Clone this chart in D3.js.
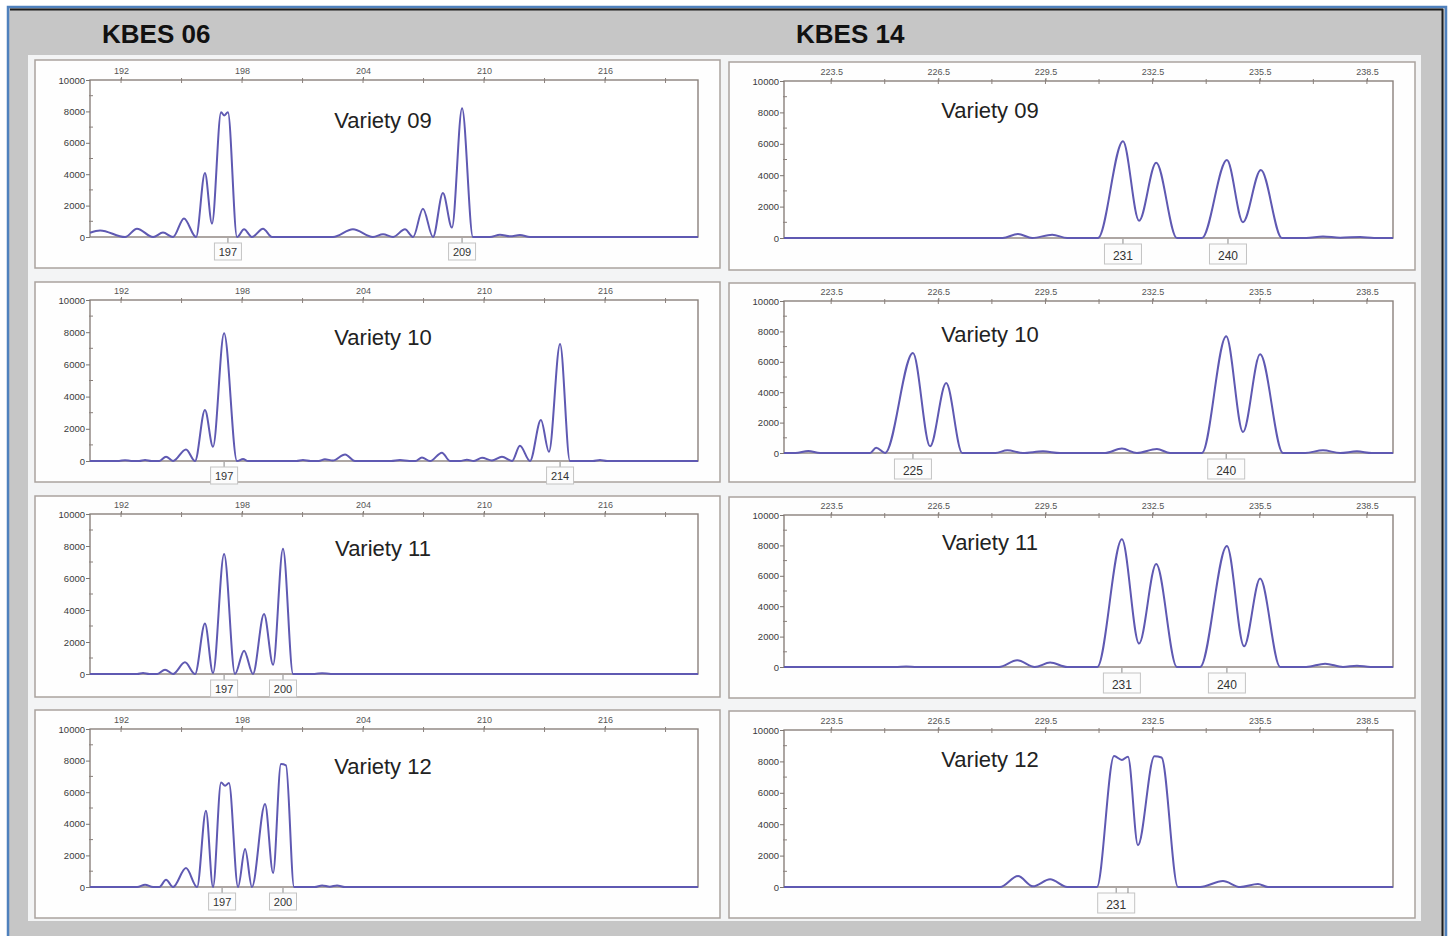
<!DOCTYPE html>
<html>
<head>
<meta charset="utf-8">
<script src="https://cdn.jsdelivr.net/npm/d3@7"></script>
<style>
  html, body { margin: 0; padding: 0; background: #ffffff; }
  svg { display: block; font-family: "Liberation Sans", Arial, sans-serif; }
</style>
</head>
<body>
<div id="chart"></div>
<script>
// =======================
// Electropherograms KBES 06 / KBES 14
// =======================

const LOCI = ["KBES 06", "KBES 14"];
const VARIETIES = ["Variety 09", "Variety 10", "Variety 11", "Variety 12"];

// axis values (fragment size, bp) and RFU
const sizeTicks06 = [192, 198, 204, 210, 216];
const sizeMinor06 = [195, 201, 207, 213, 219];
const sizeDomain06 = [190.46, 220.61];
const sizeTicks14 = [223.5, 226.5, 229.5, 232.5, 235.5, 238.5];
const sizeMinor14 = [225, 228, 231, 234, 237];
const sizeDomain14 = [222.18, 239.23];
const rfuTicks = [0, 2000, 4000, 6000, 8000, 10000];
const rfuMinor = [1000, 3000, 5000, 7000, 9000];

// traces: [size, rfu] at feet, valleys and peak tops
const kbes06_v09 = [[190.46, 270], [190.96, 420], [192.20, 0], [192.79, 530], [193.59, 0], [194.08, 280],
  [194.58, 0], [195.12, 1180], [195.72, 0], [196.16, 4080], [196.51, 850], [196.96, 7950], [197.11, 7740],
  [197.30, 7950], [197.75, 0], [198.10, 490], [198.49, 0], [199.04, 530], [199.49, 0], [202.51, 0],
  [203.50, 490], [204.49, 0], [204.99, 170], [205.49, 0], [206.08, 490], [206.48, 0], [206.97, 1800],
  [207.47, 0], [207.96, 2800], [208.41, 600], [208.91, 8200], [209.45, 0], [210.29, 0], [210.79, 150],
  [211.29, 40], [211.78, 120], [212.28, 0], [220.61, 0]];
const kbes06_v10 = [[190.46, 0], [191.90, 0], [192.20, 50], [192.50, 0], [192.90, 0], [193.19, 60],
  [193.50, 0], [193.90, 0], [194.23, 270], [194.58, 0], [195.22, 720], [195.67, 0], [196.16, 3170],
  [196.56, 890], [197.11, 7930], [197.75, 0], [198.05, 120], [198.30, 0], [200.70, 0], [201.02, 60],
  [201.40, 0], [201.80, 0], [202.11, 110], [202.50, 30], [203.11, 410], [203.60, 0], [205.40, 0],
  [205.83, 60], [206.30, 0], [206.60, 0], [206.92, 220], [207.32, 0], [207.91, 520], [208.31, 0],
  [208.80, 0], [209.15, 80], [209.50, 0], [209.90, 200], [210.39, 30], [210.89, 270], [211.39, 0],
  [211.78, 950], [212.28, 0], [212.82, 2550], [213.22, 570], [213.77, 7270], [214.26, 0], [215.40, 0],
  [215.75, 60], [216.10, 0], [220.61, 0]];
const kbes06_v11 = [[190.46, 0], [192.80, 0], [193.09, 60], [193.40, 0], [193.80, 0], [194.18, 270],
  [194.58, 0], [195.17, 730], [195.67, 0], [196.16, 3150], [196.56, 60], [197.11, 7500], [197.65, 0],
  [198.10, 1460], [198.54, 0], [199.09, 3750], [199.54, 580], [200.03, 7830], [200.53, 0], [201.60, 0],
  [201.97, 50], [202.40, 0], [220.61, 0]];
const kbes06_v12 = [[190.46, 0], [192.80, 0], [193.19, 150], [193.59, 0], [193.90, 0], [194.23, 460],
  [194.58, 0], [195.22, 1200], [195.77, 0], [196.21, 4830], [196.56, 0], [196.96, 6620], [197.16, 6410],
  [197.35, 6580], [197.80, 0], [198.15, 2400], [198.49, 0], [199.14, 5250], [199.54, 890], [199.93, 7780],
  [200.18, 7700], [200.58, 0], [201.60, 0], [201.97, 100], [202.35, 20], [202.71, 100], [203.10, 0],
  [220.61, 0]];

const kbes14_v09 = [[222.18, 0], [228.30, 0], [228.73, 250], [229.13, 0], [229.69, 210], [230.11, 0],
  [230.97, 0], [231.67, 6170], [232.12, 1100], [232.60, 4800], [233.18, 0], [233.88, 0], [234.58, 4970],
  [235.03, 1010], [235.53, 4330], [236.12, 0], [236.80, 0], [237.27, 100], [237.75, 20], [238.31, 60],
  [238.70, 0], [239.23, 0]];
const kbes14_v10 = [[222.18, 0], [222.50, 0], [222.86, 130], [223.19, 0], [224.59, 0], [224.76, 350],
  [225.01, 0], [225.79, 6580], [226.27, 440], [226.72, 4600], [227.17, 0], [228.10, 0], [228.43, 180],
  [228.87, 0], [229.43, 110], [229.91, 0], [231.17, 0], [231.64, 290], [232.06, 0], [232.62, 260],
  [232.99, 0], [233.88, 0], [234.56, 7680], [235.03, 1380], [235.51, 6490], [236.15, 0], [236.77, 0],
  [237.27, 180], [237.75, 0], [238.22, 110], [238.64, 0], [239.23, 0]];
const kbes14_v11 = [[222.18, 0], [225.30, 0], [225.60, 40], [225.90, 0], [228.20, 0], [228.71, 440],
  [229.20, 0], [229.63, 290], [230.11, 0], [230.95, 0], [231.64, 8400], [232.12, 1540], [232.60, 6770],
  [233.18, 0], [233.83, 0], [234.58, 7960], [235.06, 1360], [235.51, 5820], [236.07, 0], [236.80, 0],
  [237.33, 220], [237.83, 0], [238.22, 90], [238.60, 0], [239.23, 0]];
const kbes14_v12 = [[222.18, 0], [228.23, 0], [228.73, 700], [229.15, 40], [229.63, 490], [230.11, 0],
  [230.94, 0], [231.42, 8340], [231.64, 8090], [231.81, 8300], [232.09, 2660], [232.55, 8330],
  [232.75, 8250], [233.21, 0], [233.83, 0], [234.47, 380], [234.95, 0], [235.45, 190], [235.73, 0],
  [239.23, 0]];

// allele calls: [size, label] (empty label = tick only)
const calls06 = [
  [[197.30, "197"], [208.91, "209"]],
  [[197.11, "197"], [213.77, "214"]],
  [[197.11, "197"], [200.03, "200"]],
  [[197.01, "197"], [200.03, "200"]]
];
const calls14 = [
  [[231.67, "231"], [234.61, "240"]],
  [[225.79, "225"], [234.56, "240"]],
  [[231.64, "231"], [234.58, "240"]],
  [[231.48, "231"], [231.81, ""]]
];

const traces06 = [kbes06_v09, kbes06_v10, kbes06_v11, kbes06_v12];
const traces14 = [kbes14_v09, kbes14_v10, kbes14_v11, kbes14_v12];

// ---------- Layout ----------
const W = 1448, H = 936;

const columns = [
  {
    locus: LOCI[0], traces: traces06, calls: calls06,
    domain: sizeDomain06, ticks: sizeTicks06, minor: sizeMinor06,
    x0: 35, x1: 720, px0: 90, px1: 698, titleX: 383, headerX: 102,
    boxes: [[60, 268], [282, 482], [496, 697], [710, 918]],
    plots: [[80, 237], [300, 461], [514, 674], [729, 887]],
    titleY: [128, 345, 556, 774],
    callW: 27, callH: 17, callFont: 11
  },
  {
    locus: LOCI[1], traces: traces14, calls: calls14,
    domain: sizeDomain14, ticks: sizeTicks14, minor: sizeMinor14,
    x0: 729, x1: 1415, px0: 784, px1: 1393, titleX: 990, headerX: 796,
    boxes: [[62, 270], [283, 482], [497, 698], [711, 918]],
    plots: [[81, 238], [301, 453], [515, 667], [730, 887]],
    titleY: [118, 342, 550, 767],
    callW: 37, callH: 20, callFont: 12
  }
];

const svg = d3.select("#chart")
  .append("svg")
  .attr("width", W)
  .attr("height", H);

// window frame
svg.append("rect")
  .attr("x", 8).attr("y", 7)
  .attr("width", 1438).attr("height", 945)
  .attr("fill", "#c6c6c6")
  .attr("stroke", "#4f81bd")
  .attr("stroke-width", 2.5);
svg.append("line")
  .attr("x1", 10).attr("x2", 1443).attr("y1", 9.5).attr("y2", 9.5)
  .attr("stroke", "#1c1c1c").attr("stroke-width", 1.8);
svg.append("line")
  .attr("x1", 1442.5).attr("x2", 1442.5).attr("y1", 9).attr("y2", H)
  .attr("stroke", "#1c1c1c").attr("stroke-width", 2);

// light sheet behind the panels
svg.append("rect")
  .attr("x", 28).attr("y", 55)
  .attr("width", 1393).attr("height", 866)
  .attr("fill", "#f3f4f5");

const line = d3.line().curve(d3.curveMonotoneX);

columns.forEach(col => {
  svg.append("text")
    .attr("x", col.headerX).attr("y", 43)
    .attr("font-size", 26).attr("font-weight", "bold")
    .attr("fill", "#111")
    .text(col.locus);

  col.traces.forEach((trace, r) => drawPanel(col, r, trace, col.calls[r]));
});

function drawPanel(col, r, trace, calls) {
  const [top, base] = col.plots[r];
  const x = d3.scaleLinear().domain(col.domain).range([col.px0, col.px1]);
  const y = d3.scaleLinear().domain([0, 10000]).range([base, top]);
  const g = svg.append("g");

  // panel box
  g.append("rect")
    .attr("x", col.x0).attr("y", col.boxes[r][0])
    .attr("width", col.x1 - col.x0).attr("height", col.boxes[r][1] - col.boxes[r][0])
    .attr("fill", "#fefefe")
    .attr("stroke", "#aaa39e")
    .attr("stroke-width", 1.5);

  // plot frame
  g.append("rect")
    .attr("x", col.px0).attr("y", top)
    .attr("width", col.px1 - col.px0).attr("height", base - top)
    .attr("fill", "#ffffff")
    .attr("stroke", "#8a817c")
    .attr("stroke-width", 1.4);

  // top size axis
  const ax = g.append("g")
    .attr("transform", `translate(0,${top})`)
    .call(d3.axisTop(x).tickValues(col.ticks).tickSize(3).tickPadding(3).tickFormat(d => String(d)));
  ax.select(".domain").remove();
  ax.attr("font-family", null).attr("font-size", 9).attr("color", "#7d7570");
  ax.selectAll("text").attr("fill", "#555");

  g.selectAll(null)
    .data(col.ticks.concat(col.minor))
    .join("line")
    .attr("x1", d => x(d)).attr("x2", d => x(d))
    .attr("y1", top - 2).attr("y2", top + 3)
    .attr("stroke", "#8a817c").attr("stroke-width", 1);

  // left RFU axis
  const ay = g.append("g")
    .attr("transform", `translate(${col.px0},0)`)
    .call(d3.axisLeft(y).tickValues(rfuTicks).tickSize(4).tickPadding(1).tickFormat(d3.format("d")));
  ay.select(".domain").remove();
  ay.attr("font-family", null).attr("font-size", 9.5).attr("color", "#7d7570");
  ay.selectAll("text").attr("fill", "#3a3a3a");

  g.selectAll(null)
    .data(rfuMinor)
    .join("line")
    .attr("x1", col.px0 - 1).attr("x2", col.px0 + 3)
    .attr("y1", d => y(d)).attr("y2", d => y(d))
    .attr("stroke", "#8a817c").attr("stroke-width", 1);

  // trace
  line.x(d => x(d[0])).y(d => y(d[1]));
  g.append("path")
    .datum(trace)
    .attr("d", line)
    .attr("fill", "none")
    .attr("stroke", "#5f59b2")
    .attr("stroke-width", 2)
    .attr("stroke-linejoin", "round");

  // variety label
  g.append("text")
    .attr("x", col.titleX).attr("y", col.titleY[r])
    .attr("text-anchor", "middle")
    .attr("font-size", 22)
    .attr("fill", "#222")
    .text(VARIETIES[r]);

  // allele calls
  calls.forEach(([pos, label]) => {
    g.append("line")
      .attr("x1", x(pos)).attr("x2", x(pos))
      .attr("y1", base + 1).attr("y2", base + 6)
      .attr("stroke", "#888").attr("stroke-width", 1);
    if (!label) return;
    g.append("rect")
      .attr("x", x(pos) - col.callW / 2).attr("y", base + 6)
      .attr("width", col.callW).attr("height", col.callH)
      .attr("fill", "#fcfcfc")
      .attr("stroke", "#c4c4c4")
      .attr("stroke-width", 1);
    g.append("text")
      .attr("x", x(pos)).attr("y", base + 6 + col.callH - 4)
      .attr("text-anchor", "middle")
      .attr("font-size", col.callFont)
      .attr("fill", "#333")
      .text(label);
  });
}
</script>
</body>
</html>
